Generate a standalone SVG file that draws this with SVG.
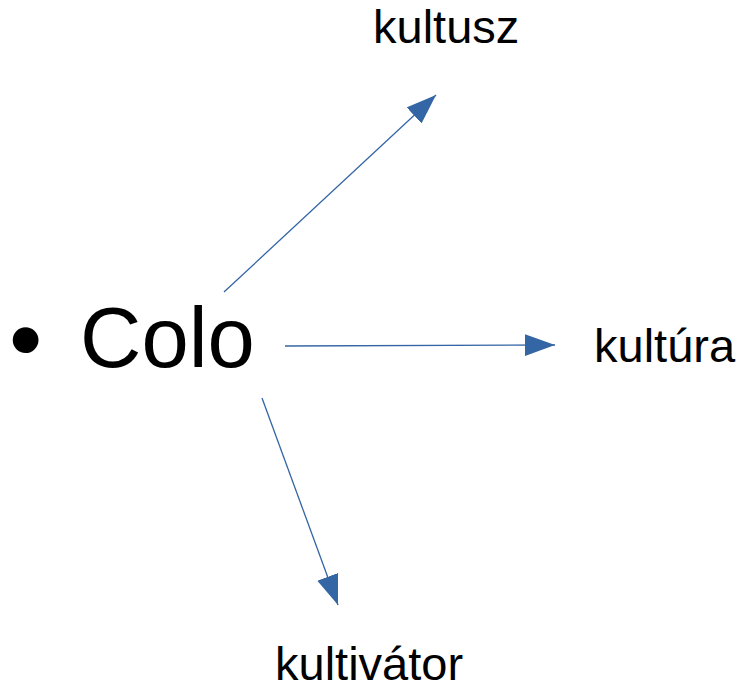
<svg xmlns="http://www.w3.org/2000/svg" width="746" height="685" viewBox="0 0 746 685">
<style>
text{font-family:"Liberation Sans",Arial,sans-serif;fill:#000}
.lbl{font-size:47px}
.arr{stroke:#3465a4;stroke-width:1.3;fill:none;marker-end:url(#ah)}
</style>
<defs>
<marker id="ah" markerUnits="userSpaceOnUse" markerWidth="32" markerHeight="24" refX="30" refY="11" orient="auto">
<path d="M0,0 L30,11 L0,22 Z" fill="#3465a4"/>
</marker>
</defs>
<rect width="746" height="685" fill="#fff"/>
<g id="colo">
<text x="9" y="372" style="font-size:95px">•</text>
<text x="80" y="367" style="font-size:85px">Colo</text>
</g>
<g id="kultusz"><text class="lbl" x="373" y="43">kultusz</text></g>
<g id="kultura"><text class="lbl" x="594" y="362">kultúra</text></g>
<g id="kultivator"><text class="lbl" x="275" y="680">kultivátor</text></g>
<g id="connectors">
<line class="arr" x1="224" y1="292" x2="436" y2="95"/>
<line class="arr" x1="285" y1="346" x2="555" y2="345"/>
<line class="arr" x1="262" y1="398" x2="338" y2="605"/>
</g>
</svg>
